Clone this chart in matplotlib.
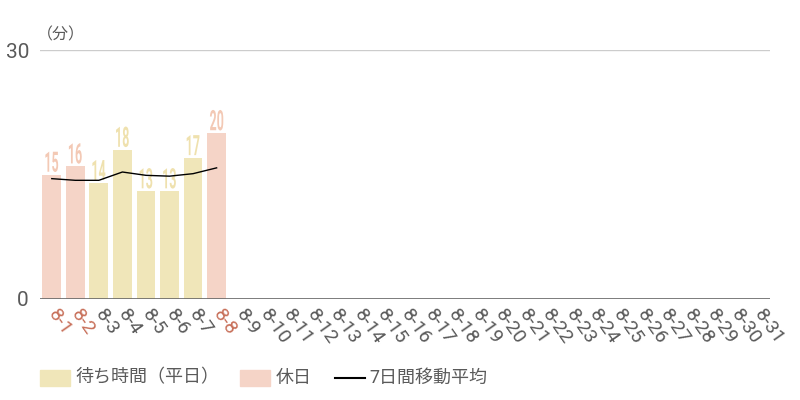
import numpy as np
import matplotlib
matplotlib.use("Agg")
import matplotlib.pyplot as plt
from matplotlib.patches import Rectangle, PathPatch
from matplotlib.lines import Line2D
from matplotlib.textpath import TextPath
from matplotlib.font_manager import FontProperties
from matplotlib.transforms import Affine2D, ScaledTranslation

plt.rcParams['font.family'] = ['Roboto', 'Noto Sans CJK JP', 'DejaVu Sans']

# data
days = ["8-%d" % d for d in range(1, 32)]
wait = [15, 16, 14, 18, 13, 13, 17, 20]
holiday = [True, True, False, False, False, False, False, True]
moving_avg = [14.5, 14.3, 14.3, 15.3, 14.9, 14.8, 15.1, 15.8]

weekday_col = "#f0e6b9"
holiday_col = "#f5d4c7"
weekday_txt = "#efe1ae"
holiday_txt = "#f3c9b5"
tick_gray = "#5a5a5a"
tick_red = "#c8705a"

fig = plt.figure(figsize=(8, 4), dpi=100)
ax = fig.add_axes([0.05, 0.2525, 0.9125, 0.6225])

x = np.arange(len(days))
n = len(wait)
cols = [holiday_col if h else weekday_col for h in holiday]
ax.bar(x[:n], wait, width=0.8, color=cols, zorder=2)

# narrow bar labels: squeeze Roboto glyphs horizontally
fp = FontProperties(family='Roboto', weight='bold')
for i in range(n):
    tp = TextPath((0, 0), str(wait[i]), size=15, prop=fp)
    ext = tp.get_extents()
    cx = (ext.x0 + ext.x1) / 2
    tr = (Affine2D().translate(-cx, 0).scale(0.6, 1.35).translate(0, 2.0)
          .scale(fig.dpi / 72)
          + ScaledTranslation(x[i], wait[i], ax.transData))
    patch = PathPatch(tp, transform=tr, lw=0,
                      color=holiday_txt if holiday[i] else weekday_txt, zorder=3)
    patch.set_clip_on(False)
    ax.add_artist(patch)

ax.plot(x[:n], moving_avg, color='black', lw=1, zorder=4)

ax.set_xlim(-0.5, len(days) - 0.5)
ax.set_ylim(0, 30)
ax.set_yticks([0, 30])
ax.set_yticklabels(["0", "30"], fontsize=15, color=tick_gray)
ax.axhline(30, color="#cccccc", lw=1, zorder=1)
ax.axhline(0, color="#666666", lw=1.2, zorder=5)

ax.set_xticks(x)
ax.set_xticklabels(days, rotation=-55, ha='left', va='center',
                   rotation_mode='anchor', fontsize=14)
for i, lbl in enumerate(ax.get_xticklabels()):
    if i < n and holiday[i]:
        lbl.set_color(tick_red)
    else:
        lbl.set_color(tick_gray)

ax.tick_params(axis='both', length=0)
ax.tick_params(axis='x', pad=9)
ax.tick_params(axis='y', pad=8)
for s in ax.spines.values():
    s.set_visible(False)

fig.text(0.046, 0.9125, "（分）", fontsize=11.5, color=tick_gray, ha='left', va='center')

# legend
ly = 0.056
fig.patches.append(Rectangle((0.05, 0.035), 0.038, 0.04, transform=fig.transFigure,
                             color=weekday_col))
fig.text(0.094, ly, "待ち時間（平日）", fontsize=13, color=tick_gray, va='center')
fig.patches.append(Rectangle((0.3, 0.035), 0.038, 0.04, transform=fig.transFigure,
                             color=holiday_col))
fig.text(0.345, ly, "休日", fontsize=13, color=tick_gray, va='center')
fig.lines.append(Line2D([0.419, 0.456], [ly, ly], transform=fig.transFigure,
                        color='black', lw=1.5))
fig.text(0.462, ly, "7日間移動平均", fontsize=13, color=tick_gray, va='center')

fig.savefig("out.png", dpi=100)
